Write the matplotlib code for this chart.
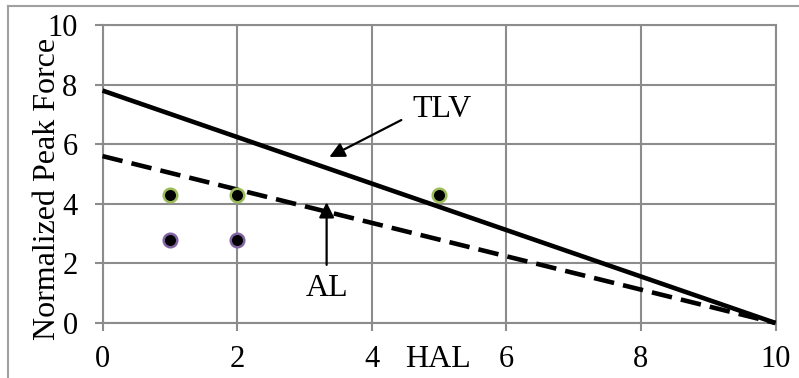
import numpy as np
import matplotlib.pyplot as plt
from matplotlib.lines import Line2D

# line end points (HAL, normalized peak force)
tlv_x = [0, 10]
tlv_y = [7.8, 0]
al_x = [0, 10]
al_y = [5.6, 0]

# measured points
green_x = [1, 2, 5]
green_y = [4.3, 4.3, 4.3]
purple_x = [1, 2]
purple_y = [2.8, 2.8]

ticks = [0, 2, 4, 6, 8, 10]

plt.rcParams['font.family'] = ['Liberation Serif', 'DejaVu Serif']
grid_c = '#8c8c8c'

fig = plt.figure(figsize=(7.99, 3.78), dpi=100)
ax = fig.add_axes([0.1283, 0.1455, 0.8423, 0.7884])

ax.plot(tlv_x, tlv_y, color='black', lw=3.3, solid_capstyle='butt', clip_on=False, zorder=3)
ax.plot(al_x, al_y, color='black', lw=3.3, dashes=(4.5, 2), clip_on=False, zorder=3)

ax.scatter(green_x, green_y, s=95, c='black', edgecolors='#9bbb59', linewidths=1.8, zorder=4)
ax.scatter(purple_x, purple_y, s=95, c='black', edgecolors='#8064a2', linewidths=1.8, zorder=4)

arrow = dict(arrowstyle='-|>,head_length=0.7,head_width=0.35', color='black', lw=1.6,
             mutation_scale=13, shrinkA=0, shrinkB=0)
ax.annotate('', xy=(3.37, 5.57), xytext=(4.44, 6.81), arrowprops=arrow)
ax.text(5.05, 7.15, 'TLV', fontsize=23, ha='center', va='center')
ax.annotate('', xy=(3.33, 4.05), xytext=(3.33, 1.95), arrowprops=arrow)
ax.text(3.33, 1.17, 'AL', fontsize=23, ha='center', va='center')

ax.set_xlim(0, 10)
ax.set_ylim(0, 10)
ax.set_xticks(ticks)
ax.set_yticks(ticks)
ax.tick_params(labelsize=22, color=grid_c, width=1.5, length=6)
ax.tick_params(axis='x', pad=10)
ax.tick_params(axis='y', pad=12)
ax.grid(True, color=grid_c, lw=1.5)
ax.set_axisbelow(True)
for s in ax.spines.values():
    s.set_color(grid_c)
    s.set_linewidth(1.5)

ax.set_ylabel('Normalized Peak Force', fontsize=23)
ax.yaxis.set_label_coords(-0.06, 0.45)
ax.text(4.98, -(16 / 72 * 100) / 298, 'HAL', transform=ax.get_xaxis_transform(),
        fontsize=23, ha='center', va='top')

# outer chart border (top and left only visible)
fig.add_artist(Line2D([0.010, 1.0], [0.984, 0.984], color='#a0a0a0', lw=1.5))
fig.add_artist(Line2D([0.010, 0.010], [0.0, 0.984], color='#a0a0a0', lw=1.5))

fig.savefig('out.png', dpi=100)
